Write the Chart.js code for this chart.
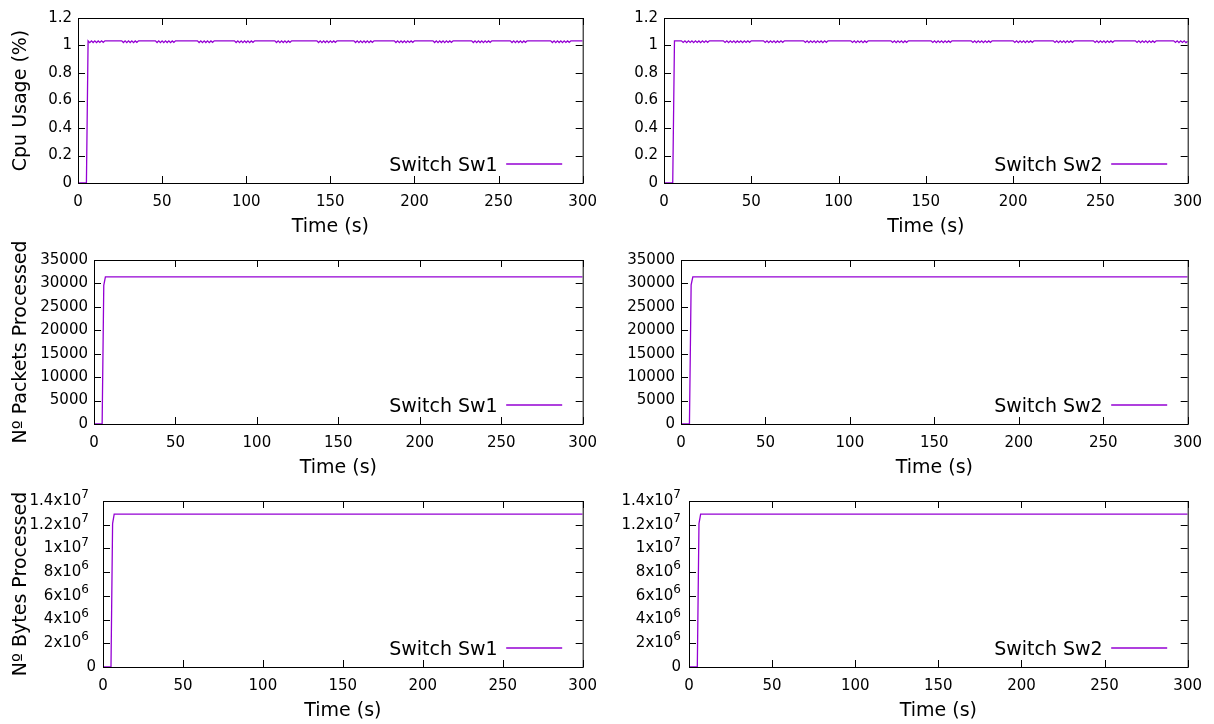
<!DOCTYPE html>
<html>
<head>
<meta charset="utf-8">
<title>Switch statistics</title>
<script src="https://cdn.jsdelivr.net/npm/chart.js@4/dist/chart.umd.min.js"></script>
<style>
  html, body { margin: 0; padding: 0; background: #fff; }
  body { width: 1214px; height: 724px; position: relative; overflow: hidden; }
  canvas { position: absolute; }
</style>
</head>
<body>
<script>
// ---- axis ticks ----
const timeTicks = [0, 50, 100, 150, 200, 250, 300];
const cpuTicks = [0, 0.2, 0.4, 0.6, 0.8, 1, 1.2];
const packetTicks = [0, 5000, 10000, 15000, 20000, 25000, 30000, 35000];
const byteTicks = [0, 2e6, 4e6, 6e6, 8e6, 1e7, 1.2e7, 1.4e7];
const byteTickLabels = ['0', '2x10^6', '4x10^6', '6x10^6', '8x10^6', '1x10^7', '1.2x10^7', '1.4x10^7'];

// ---- series: [time (s), value] ----
const cpuSw1 = [
  [0,0],[5,0],[6,1.034],
  [7,1.021],[8,1.034],[9,1.022],[10,1.034],[11,1.021],[12,1.033],[13,1.022],[14,1.034],[15,1.023],[16,1.034],
  [26,1.034],[27,1.022],[28,1.034],[29,1.021],[30,1.034],[31,1.022],[32,1.034],[33,1.021],[34,1.033],[35,1.023],[36,1.034],
  [46,1.034],[47,1.022],[48,1.034],[49,1.021],[50,1.034],[51,1.021],[52,1.034],[53,1.022],[54,1.034],[55,1.021],[56,1.033],[57,1.023],[58,1.034],
  [71,1.034],[72,1.022],[73,1.034],[74,1.021],[75,1.034],[76,1.022],[77,1.034],[78,1.021],[79,1.033],[80,1.023],[81,1.034],
  [93,1.034],[94,1.022],[95,1.034],[96,1.021],[97,1.034],[98,1.021],[99,1.034],[100,1.022],[101,1.034],[102,1.021],[103,1.033],[104,1.023],[105,1.034],
  [117,1.034],[118,1.022],[119,1.034],[120,1.021],[121,1.034],[122,1.022],[123,1.034],[124,1.021],[125,1.033],[126,1.023],[127,1.034],
  [142,1.034],[143,1.022],[144,1.034],[145,1.021],[146,1.034],[147,1.022],[148,1.034],[149,1.021],[150,1.034],[151,1.022],[152,1.033],[153,1.023],[154,1.034],
  [164,1.034],[165,1.022],[166,1.034],[167,1.021],[168,1.034],[169,1.021],[170,1.034],[171,1.022],[172,1.034],[173,1.021],[174,1.033],[175,1.023],[176,1.034],
  [188,1.034],[189,1.022],[190,1.034],[191,1.021],[192,1.034],[193,1.022],[194,1.034],[195,1.021],[196,1.034],[197,1.022],[198,1.033],[199,1.023],[200,1.034],
  [211,1.034],[212,1.022],[213,1.034],[214,1.021],[215,1.034],[216,1.022],[217,1.034],[218,1.021],[219,1.034],[220,1.022],[221,1.033],[222,1.023],[223,1.034],
  [234,1.034],[235,1.022],[236,1.034],[237,1.021],[238,1.034],[239,1.022],[240,1.034],[241,1.021],[242,1.034],[243,1.022],[244,1.033],[245,1.023],[246,1.034],
  [257,1.034],[258,1.022],[259,1.034],[260,1.021],[261,1.034],[262,1.022],[263,1.034],[264,1.021],[265,1.033],[266,1.023],[267,1.034],
  [281,1.034],[282,1.022],[283,1.034],[284,1.021],[285,1.034],[286,1.022],[287,1.034],[288,1.021],[289,1.034],[290,1.022],[291,1.033],[292,1.023],[293,1.034],
  [300,1.034]
];
const cpuSw2 = [
  [0,0],[5,0],[6,1.034],
  [10,1.034],[11,1.022],[12,1.034],[13,1.021],[14,1.034],[15,1.022],[16,1.034],[17,1.021],[18,1.034],[19,1.022],[20,1.033],[21,1.021],[22,1.034],[23,1.022],[24,1.034],[25,1.023],[26,1.034],
  [34,1.034],[35,1.022],[36,1.034],[37,1.021],[38,1.034],[39,1.022],[40,1.034],[41,1.021],[42,1.033],[43,1.022],[44,1.034],[45,1.021],[46,1.034],[47,1.022],[48,1.034],[49,1.023],[50,1.034],
  [57,1.034],[58,1.022],[59,1.034],[60,1.021],[61,1.034],[62,1.022],[63,1.034],[64,1.021],[65,1.033],[66,1.022],[67,1.034],[68,1.023],[69,1.034],
  [80,1.034],[81,1.022],[82,1.034],[83,1.021],[84,1.034],[85,1.022],[86,1.034],[87,1.021],[88,1.034],[89,1.022],[90,1.033],[91,1.021],[92,1.034],[93,1.023],[94,1.034],
  [107,1.034],[108,1.022],[109,1.034],[110,1.021],[111,1.034],[112,1.022],[113,1.034],[114,1.021],[115,1.033],[116,1.023],[117,1.034],
  [130,1.034],[131,1.022],[132,1.034],[133,1.021],[134,1.034],[135,1.022],[136,1.034],[137,1.021],[138,1.033],[139,1.023],[140,1.034],
  [153,1.034],[154,1.022],[155,1.034],[156,1.021],[157,1.034],[158,1.022],[159,1.034],[160,1.021],[161,1.034],[162,1.022],[163,1.033],[164,1.023],[165,1.034],
  [176,1.034],[177,1.022],[178,1.034],[179,1.021],[180,1.034],[181,1.022],[182,1.034],[183,1.021],[184,1.034],[185,1.022],[186,1.033],[187,1.023],[188,1.034],
  [200,1.034],[201,1.022],[202,1.034],[203,1.021],[204,1.034],[205,1.022],[206,1.034],[207,1.021],[208,1.034],[209,1.022],[210,1.033],[211,1.023],[212,1.034],
  [223,1.034],[224,1.022],[225,1.034],[226,1.021],[227,1.034],[228,1.022],[229,1.034],[230,1.021],[231,1.034],[232,1.022],[233,1.033],[234,1.023],[235,1.034],
  [246,1.034],[247,1.022],[248,1.034],[249,1.021],[250,1.034],[251,1.022],[252,1.034],[253,1.021],[254,1.034],[255,1.022],[256,1.033],[257,1.023],[258,1.034],
  [270,1.034],[271,1.022],[272,1.034],[273,1.021],[274,1.034],[275,1.022],[276,1.034],[277,1.021],[278,1.034],[279,1.022],[280,1.033],[281,1.023],[282,1.034],
  [292,1.034],[293,1.022],[294,1.034],[295,1.021],[296,1.034],[297,1.022],[298,1.034],[299,1.021],[300,1.030]
];
const packetsSw1 = [[0,0],[5,0],[6,29600],[7,31400],[300,31400]];
const packetsSw2 = [[0,0],[5,0],[6,29700],[7,31400],[300,31400]];
const bytesSw1 = [[0,0],[5,0],[6,12100000],[7,12900000],[300,12900000]];
const bytesSw2 = [[0,0],[5,0],[6,12100000],[7,12900000],[300,12900000]];

const LINE_COLOR = '#9400d3';
const FONT = '"DejaVu Sans", sans-serif';

Chart.defaults.font.family = FONT;
Chart.defaults.color = '#000';

// gnuplot-like frame: border, inward mirrored ticks, in-plot key, power-of-ten labels
const gnuFrame = {
  id: 'gnuFrame',
  afterDraw(chart, args, o) {
    const { ctx, chartArea: a, scales: { x, y } } = chart;
    ctx.save();

    if (o.powerLabels) {
      ctx.fillStyle = '#000';
      ctx.textAlign = 'right';
      ctx.textBaseline = 'middle';
      y.ticks.forEach((t, i) => {
        const [base, exp] = o.powerLabels[i].split('^');
        const py = y.getPixelForValue(t.value);
        if (exp) {
          const xr = a.left - o.powerGap;
          ctx.font = '12px ' + FONT;
          ctx.fillText(exp, xr, py - 6);
          const we = ctx.measureText(exp).width;
          ctx.font = '15px ' + FONT;
          ctx.fillText(base, xr - we, py);
        } else {
          ctx.font = '15px ' + FONT;
          ctx.fillText(base, a.left - o.zeroGap, py);
        }
      });
    }

    const L = 7;
    ctx.strokeStyle = '#000';
    ctx.lineWidth = 1;
    ctx.beginPath();
    x.ticks.forEach(t => {
      const px = Math.round(x.getPixelForValue(t.value)) + 0.5;
      ctx.moveTo(px, a.bottom); ctx.lineTo(px, a.bottom - L);
      ctx.moveTo(px, a.top); ctx.lineTo(px, a.top + L);
    });
    y.ticks.forEach(t => {
      const py = Math.round(y.getPixelForValue(t.value)) + 0.5;
      ctx.moveTo(a.left, py); ctx.lineTo(a.left + L, py);
      ctx.moveTo(a.right, py); ctx.lineTo(a.right - L, py);
    });
    ctx.stroke();
    ctx.strokeRect(a.left + 0.5, a.top + 0.5, a.right - a.left, a.bottom - a.top);

    // key: label text followed by a line sample, bottom right inside the frame
    const ds = chart.data.datasets[0];
    const ly = a.bottom - 19;
    const x2 = a.right - 20.5, x1 = x2 - 56;
    ctx.strokeStyle = ds.borderColor;
    ctx.lineWidth = ds.borderWidth;
    ctx.beginPath();
    ctx.moveTo(x1, ly); ctx.lineTo(x2, ly);
    ctx.stroke();
    ctx.fillStyle = '#000';
    ctx.font = '19px ' + FONT;
    ctx.textAlign = 'right';
    ctx.textBaseline = 'alphabetic';
    ctx.fillText(ds.label, x1 - 8.5, ly + 7.3);

    ctx.restore();
  }
};

const panels = [
  { rect: [78, 18, 583, 183],   canvasLeft: 0,   series: cpuSw1,     label: 'Switch Sw1', yTicks: cpuTicks,    yTitle: 'Cpu Usage (%)' },
  { rect: [664, 18, 1188, 183], canvasLeft: 604, series: cpuSw2,     label: 'Switch Sw2', yTicks: cpuTicks },
  { rect: [94, 260, 583, 424],  canvasLeft: 0,   series: packetsSw1, label: 'Switch Sw1', yTicks: packetTicks, yTitle: 'Nº Packets Processed' },
  { rect: [681, 260, 1188, 424],canvasLeft: 604, series: packetsSw2, label: 'Switch Sw2', yTicks: packetTicks },
  { rect: [103, 501, 583, 667], canvasLeft: 0,   series: bytesSw1,   label: 'Switch Sw1', yTicks: byteTicks,   yTitle: 'Nº Bytes Processed', power: { gap: 14, zero: 7 } },
  { rect: [689, 501, 1188, 667],canvasLeft: 604, series: bytesSw2,   label: 'Switch Sw2', yTicks: byteTicks,   power: { gap: 8, zero: 8 } }
];

function makePanel(p) {
  const [l, t, r, b] = p.rect;
  const padTop = Math.min(t, 30), padRight = 24, xAxisH = 56, titleOffset = 44.5;
  const cx = p.canvasLeft, cy = t - padTop;
  const w = r + padRight - cx, h = b + xAxisH - cy;
  const cv = document.createElement('canvas');
  cv.width = w; cv.height = h;
  cv.style.left = cx + 'px'; cv.style.top = cy + 'px';
  cv.style.width = w + 'px'; cv.style.height = h + 'px';
  document.body.appendChild(cv);

  const titleFont = { family: FONT, size: 19 };
  const tickFont = { family: FONT, size: 15 };

  new Chart(cv, {
    type: 'line',
    data: {
      datasets: [{
        label: p.label,
        data: p.series.map(([x, y]) => ({ x, y })),
        borderColor: LINE_COLOR,
        borderWidth: 1.3,
        pointRadius: 0,
        tension: 0,
        fill: false
      }]
    },
    options: {
      responsive: false,
      animation: false,
      devicePixelRatio: 1,
      events: [],
      layout: { padding: { top: padTop, right: padRight, left: 0, bottom: 0 } },
      plugins: {
        legend: { display: false },
        tooltip: { enabled: false },
        gnuFrame: p.power ? { powerLabels: byteTickLabels, powerGap: p.power.gap, zeroGap: p.power.zero } : {}
      },
      scales: {
        x: {
          type: 'linear', min: 0, max: 300,
          afterBuildTicks: s => { s.ticks = timeTicks.map(v => ({ value: v })); },
          afterFit: s => { s.height = xAxisH; },
          grid: { display: false, drawTicks: false },
          border: { display: false },
          ticks: { font: tickFont, padding: 10, maxRotation: 0, autoSkip: false, callback: v => String(v) },
          title: { display: true, text: 'Time (s)', font: titleFont, padding: { top: 0, bottom: xAxisH - titleOffset - 11.4 } }
        },
        y: {
          type: 'linear',
          min: p.yTicks[0], max: p.yTicks[p.yTicks.length - 1],
          afterBuildTicks: s => { s.ticks = p.yTicks.map(v => ({ value: v })); },
          afterFit: s => { s.width = l - cx; },
          grid: { display: false, drawTicks: false },
          border: { display: false },
          ticks: { display: !p.power, font: tickFont, padding: 6, autoSkip: false, callback: v => String(v) },
          title: { display: !!p.yTitle, text: p.yTitle || '', font: titleFont, padding: { top: 9.2, bottom: 0 } }
        }
      }
    },
    plugins: [gnuFrame]
  });
}

panels.forEach(makePanel);
</script>
</body>
</html>
